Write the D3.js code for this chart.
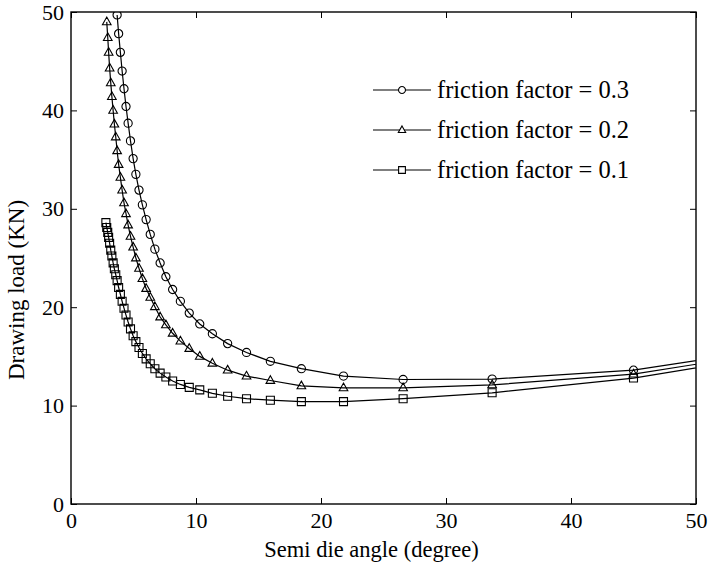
<!DOCTYPE html>
<html><head><meta charset="utf-8">
<script src="https://cdn.jsdelivr.net/npm/d3@7/dist/d3.min.js"></script>
<style>body{margin:0;background:#fff}svg{display:block}</style>
</head><body>
<svg id="chart" width="712" height="562"></svg>
<script>
// semi die angle (degree), shared by all series
const angles = [63.43,45.00,33.69,26.57,21.80,18.43,15.95,14.04,12.53,11.31,10.30,9.46,8.75,8.13,7.59,7.13,6.71,6.34,6.01,5.71,5.44,5.19,4.97,4.76,4.57,4.40,4.24,4.09,3.95,3.81,3.69,3.58,3.47,3.37,3.27,3.18,3.09,3.01,2.94,2.86,2.79];
// drawing load (KN)
const load03 = [17.2,13.6,12.7,12.65,13.0,13.75,14.5,15.4,16.3,17.3,18.3,19.4,20.6,21.8,23.1,24.5,25.9,27.4,28.9,30.4,31.9,33.5,35.1,36.9,38.7,40.4,42.2,44.0,45.9,47.8,49.7];
const load02 = [16.9,13.2,12.1,11.8,11.8,12.0,12.55,13.0,13.6,14.3,15.0,15.8,16.55,17.35,18.2,19.0,20.05,21.0,21.9,22.9,23.95,25.0,26.1,27.2,28.35,29.5,30.6,31.9,33.2,34.5,35.9,37.3,38.6,40.0,41.4,42.8,44.3,45.9,47.4,49.0];
const load01 = [16.6,12.8,11.3,10.7,10.4,10.4,10.55,10.7,10.95,11.25,11.6,11.85,12.15,12.5,12.9,13.3,13.75,14.25,14.75,15.3,15.9,16.5,17.1,17.8,18.5,19.2,19.9,20.6,21.3,22.0,22.7,23.3,23.9,24.5,25.2,25.8,26.5,27.1,27.6,28.1,28.6];
const seriesNames = ["friction factor = 0.3","friction factor = 0.2","friction factor = 0.1"];
const seriesMarkers = ["circle","triangle","square"];
const xTicks = [0,10,20,30,40,50];
const yTicks = [0,10,20,30,40,50];

const series = [load03, load02, load01].map((vals, i) => ({
  name: seriesNames[i], marker: seriesMarkers[i],
  points: vals.map((v, j) => ({a: angles[j], v}))
}));

const FONT = "'Liberation Serif','Times New Roman',serif";
const m = {left:71, top:12, right:16, bottom:58};
const W = 712 - m.left - m.right, H = 562 - m.top - m.bottom;
const svg = d3.select("#chart");
const g = svg.append("g").attr("transform", `translate(${m.left},${m.top})`);

const x = d3.scaleLinear().domain([0,50]).range([0,W]);
const y = d3.scaleLinear().domain([0,50]).range([H,0]);

svg.append("defs").append("clipPath").attr("id","clip")
  .append("rect").attr("width",W).attr("height",H);

function markerPath(type, cx, cy, k) {
  k = k || 1;
  if (type === "circle") {
    const r = 4.1*k;
    return `M${cx+r},${cy}A${r},${r} 0 1,1 ${cx-r},${cy}A${r},${r} 0 1,1 ${cx+r},${cy}Z`;
  }
  if (type === "triangle") {
    const s = 4.8*k;
    return `M${cx},${cy-s}L${cx+s*0.9},${cy+s*0.6}L${cx-s*0.9},${cy+s*0.6}Z`;
  }
  const h = 4.0*k;
  return `M${cx-h},${cy-h}H${cx+h}V${cy+h}H${cx-h}Z`;
}

const plot = g.append("g").attr("clip-path","url(#clip)");
const line = d3.line().x(d => x(d.a)).y(d => y(d.v));
series.forEach(s => {
  plot.append("path").attr("d", line(s.points))
    .attr("fill","none").attr("stroke","#000").attr("stroke-width",1.2);
  plot.append("path")
    .attr("d", s.points.map(p => markerPath(s.marker, x(p.a), y(p.v))).join(""))
    .attr("fill","none").attr("stroke","#000").attr("stroke-width",1.1);
});

// axes with inward ticks
function styleAxis(sel) {
  sel.select(".domain").remove();
  sel.selectAll(".tick line").attr("stroke","#000").attr("stroke-width",1);
  sel.selectAll("text").attr("font-family",FONT).attr("font-size",22).attr("fill","#000");
}
g.append("g").attr("transform",`translate(0,${H})`)
  .call(d3.axisBottom(x).tickValues(xTicks).tickSize(-6).tickPadding(8).tickFormat(d3.format("d")))
  .call(styleAxis);
g.append("g")
  .call(d3.axisLeft(y).tickValues(yTicks).tickSize(-6).tickPadding(7).tickFormat(d3.format("d")))
  .call(styleAxis);
g.append("g")
  .call(d3.axisTop(x).tickValues(xTicks).tickSize(-6).tickFormat(""))
  .call(styleAxis);
g.append("g").attr("transform",`translate(${W},0)`)
  .call(d3.axisRight(y).tickValues(yTicks).tickSize(-6).tickFormat(""))
  .call(styleAxis);

g.append("rect").attr("width",W).attr("height",H)
  .attr("fill","none").attr("stroke","#000").attr("stroke-width",1.4);

// axis titles
svg.append("text").attr("x", m.left + W/2 - 12).attr("y", 557)
  .attr("text-anchor","middle").attr("font-family",FONT).attr("font-size",22.5)
  .text("Semi die angle (degree)");
svg.append("text").attr("transform",`translate(24,${m.top + H/2 + 32}) rotate(-90)`)
  .attr("text-anchor","middle").attr("font-family",FONT).attr("font-size",23)
  .text("Drawing load (KN)");

// legend
const leg = svg.append("g");
series.forEach((s, i) => {
  const ly = 90 + i*40;
  leg.append("line").attr("x1",373).attr("x2",431).attr("y1",ly).attr("y2",ly)
    .attr("stroke","#000").attr("stroke-width",1.2);
  leg.append("path").attr("d", markerPath(s.marker, 402, ly, 0.85))
    .attr("fill","#fff").attr("stroke","#000").attr("stroke-width",1.1);
  leg.append("text").attr("x",437).attr("y",ly).attr("dy","0.33em")
    .attr("font-family",FONT).attr("font-size",24.5).text(s.name);
});
</script>
</body></html>
